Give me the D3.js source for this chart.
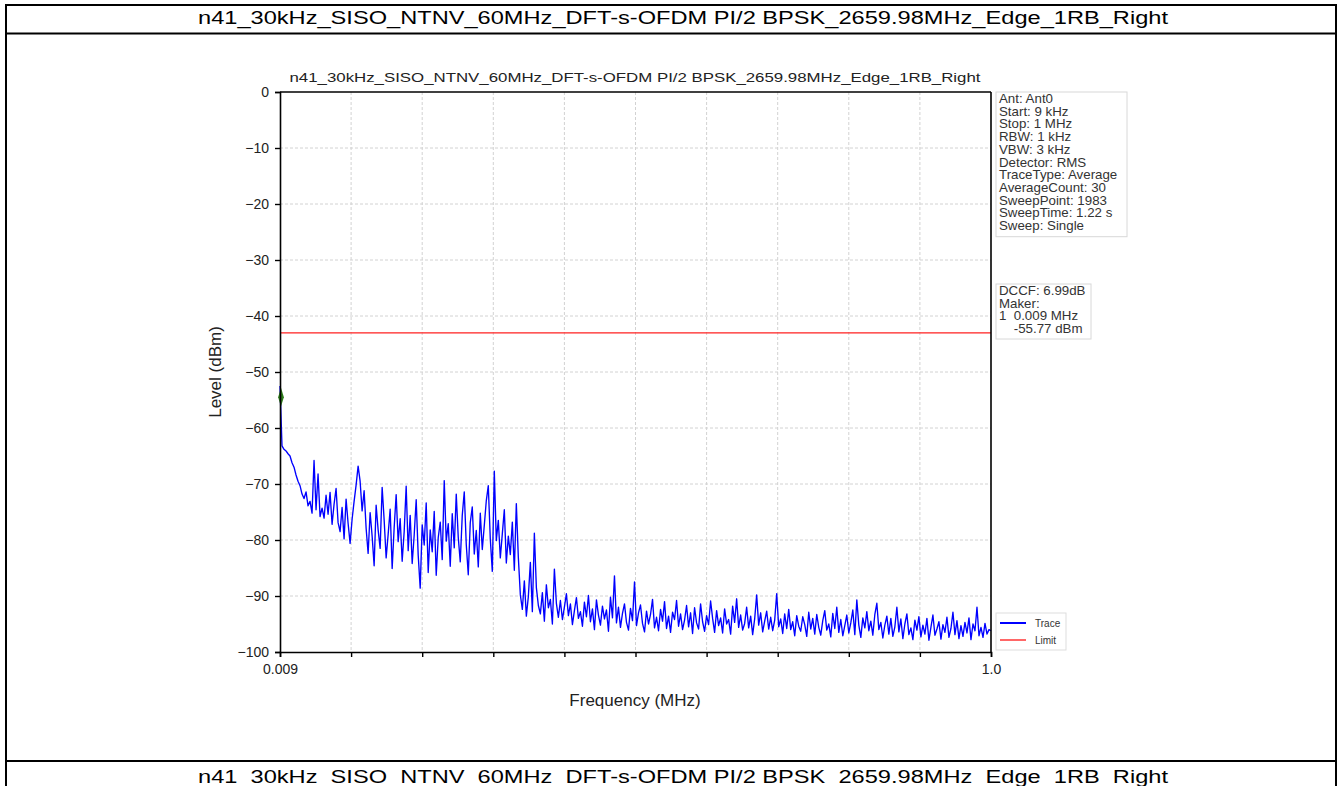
<!DOCTYPE html>
<html><head><meta charset="utf-8">
<script src="https://cdn.jsdelivr.net/npm/d3@7"></script>
<style>
html,body{margin:0;padding:0;background:#fff;}
svg{display:block;font-family:"Liberation Sans",Arial,sans-serif;}
</style></head>
<body>
<svg id="c" width="1338" height="786"></svg>
<script>
const titleText = "n41_30kHz_SISO_NTNV_60MHz_DFT-s-OFDM PI/2 BPSK_2659.98MHz_Edge_1RB_Right";
const sweepStart = 0.009, sweepStop = 1.0;
const xTickLabels = ["0.009","","","","","","","","","","1.0"];
const yTicks = [0,-10,-20,-30,-40,-50,-60,-70,-80,-90,-100];
const limitLevel = -43;
const markerFreq = 0.009, markerLevel = -54.5;
const infoLines = ["Ant: Ant0","Start: 9 kHz","Stop: 1 MHz","RBW: 1 kHz","VBW: 3 kHz","Detector: RMS","TraceType: Average","AverageCount: 30","SweepPoint: 1983","SweepTime: 1.22 s","Sweep: Single"];
const markerLines = ["DCCF: 6.99dB","Maker:","1  0.009 MHz","    -55.77 dBm"];
const legendItems = [{name:"Trace",color:"#0000ff"},{name:"Limit",color:"#ff0000"}];
const traceLevels = [
-52.5,-63.2,-63.8,-64.1,-64.6,-65.0,-66.2,-67.0,-68.4,-69.5,
-70.3,-71.8,-72.6,-71.4,-73.9,-73.1,-75.2,-65.8,-74.6,-68.2,
-75.8,-74.3,-76.1,-72.0,-75.4,-71.5,-77.2,-73.6,-70.8,-76.9,
-78.5,-74.2,-79.8,-72.7,-77.0,-80.6,-76.3,-73.1,-70.2,-66.8,
-69.5,-74.8,-71.2,-77.9,-82.4,-75.1,-79.3,-84.6,-73.8,-78.2,
-81.5,-70.6,-76.4,-83.2,-79.0,-74.5,-85.1,-77.8,-71.9,-80.3,
-76.2,-83.8,-78.5,-70.4,-81.9,-75.6,-84.2,-79.1,-72.8,-82.7,
-88.6,-77.3,-80.9,-73.4,-85.8,-78.2,-82.1,-74.9,-86.3,-79.6,
-76.8,-83.5,-69.4,-80.2,-77.1,-84.7,-75.3,-81.4,-71.8,-79.5,
-83.9,-75.6,-71.4,-80.8,-86.2,-76.9,-74.1,-82.5,-78.3,-84.8,
-75.2,-81.7,-77.4,-73.0,-70.3,-79.8,-85.6,-67.7,-80.1,-76.5,
-83.2,-78.9,-74.6,-84.1,-79.3,-82.6,-76.8,-85.4,-73.5,-83.1,
-89.8,-92.4,-87.3,-93.6,-90.1,-84.0,-92.8,-78.8,-88.5,-91.7,
-93.2,-89.4,-94.5,-88.0,-92.1,-90.6,-95.0,-85.2,-91.3,-93.8,
-90.8,-94.2,-92.0,-89.6,-93.5,-91.4,-95.1,-92.6,-90.3,-94.0,
-92.8,-95.4,-91.1,-93.7,-89.9,-94.6,-92.3,-96.0,-90.7,-93.4,
-95.2,-91.8,-94.1,-92.5,-96.3,-90.2,-93.9,-86.4,-94.8,-92.0,
-95.6,-93.1,-91.4,-94.7,-96.1,-92.2,-94.4,-87.5,-95.3,-93.0,
-91.6,-94.9,-96.4,-92.7,-95.0,-93.3,-90.6,-95.7,-93.8,-96.2,
-92.4,-94.5,-91.0,-95.8,-93.6,-96.5,-92.9,-94.2,-90.8,-95.4,
-93.2,-96.0,-94.3,-91.7,-95.5,-93.0,-96.7,-92.1,-94.8,-95.9,
-91.4,-94.6,-96.3,-93.5,-95.1,-90.9,-94.0,-96.5,-92.6,-95.3,
-93.9,-96.6,-92.3,-95.0,-94.2,-96.8,-91.8,-94.7,-90.5,-95.6,
-93.4,-96.1,-94.9,-92.0,-95.7,-93.6,-96.9,-94.1,-89.8,-95.2,
-93.0,-96.4,-94.5,-92.7,-95.9,-93.8,-96.2,-94.3,-89.6,-95.5,
-94.1,-96.7,-93.2,-95.8,-92.4,-96.0,-94.6,-97.1,-93.5,-95.4,
-96.3,-93.7,-95.1,-97.2,-92.9,-95.9,-94.0,-96.8,-93.3,-95.6,
-97.0,-94.4,-92.6,-96.1,-95.0,-97.3,-93.1,-95.8,-92.0,-96.5,
-94.2,-97.1,-95.3,-93.4,-96.6,-94.8,-92.5,-96.9,-90.7,-95.2,
-97.4,-93.9,-95.7,-92.8,-96.2,-94.5,-97.0,-93.3,-91.3,-96.0,
-94.7,-97.5,-95.2,-93.6,-96.8,-94.0,-97.2,-95.5,-92.0,-96.4,
-94.1,-97.6,-95.0,-93.2,-96.9,-95.7,-97.8,-94.3,-96.1,-93.7,
-97.3,-95.2,-96.8,-94.0,-97.9,-95.6,-93.4,-97.0,-95.9,-94.6,
-97.7,-95.1,-96.5,-93.8,-97.4,-95.8,-92.9,-96.9,-94.4,-97.6,
-95.3,-97.2,-94.7,-96.6,-93.9,-97.8,-95.0,-96.2,-92.0,-97.1,
-95.6,-97.4,-94.9,-96.8,-96.0,-96.2
];

const svg = d3.select("#c");

// outer table frame
const frame = svg.append("g").attr("stroke","#000").attr("stroke-width",2);
frame.append("line").attr("x1",5).attr("x2",1337).attr("y1",5).attr("y2",5);
frame.append("line").attr("x1",6).attr("x2",6).attr("y1",4).attr("y2",786);
frame.append("line").attr("x1",1336).attr("x2",1336).attr("y1",4).attr("y2",786);
frame.append("line").attr("x1",5).attr("x2",1337).attr("y1",33.5).attr("y2",33.5);
frame.append("line").attr("x1",5).attr("x2",1337).attr("y1",761).attr("y2",761);

svg.append("text").attr("x",683).attr("y",24).attr("text-anchor","middle")
  .attr("font-size",18).attr("textLength",970).attr("lengthAdjust","spacingAndGlyphs")
  .text(titleText);
svg.append("text").attr("x",683).attr("y",783).attr("text-anchor","middle")
  .attr("font-size",18).attr("textLength",970).attr("lengthAdjust","spacingAndGlyphs")
  .text(titleText);

// plot
const x = d3.scaleLinear().domain([sweepStart, sweepStop]).range([280, 991]);
const y = d3.scaleLinear().domain([-100, 0]).range([652, 92]);
const xTickVals = xTickLabels.map((_, i) => sweepStart + i * (sweepStop - sweepStart) / (xTickLabels.length - 1));

svg.append("text").attr("x",635).attr("y",82).attr("text-anchor","middle")
  .attr("font-size",13.5).attr("fill","#222").attr("textLength",691).attr("lengthAdjust","spacingAndGlyphs")
  .text(titleText);

const grid = svg.append("g").attr("stroke","#d2d2d2").attr("stroke-width",1).attr("stroke-dasharray","3,2");
grid.selectAll(".gx").data(xTickVals.slice(1,-1)).join("line")
  .attr("x1",d=>x(d)).attr("x2",d=>x(d)).attr("y1",92).attr("y2",652);
grid.selectAll(".gy").data(yTicks.slice(1,-1)).join("line")
  .attr("x1",280).attr("x2",991).attr("y1",d=>y(d)).attr("y2",d=>y(d));

// trace
const step = (sweepStop - sweepStart) / (traceLevels.length - 1);
const line = d3.line().x((d,i)=>x(sweepStart + i*step)).y(d=>y(d));
svg.append("path").datum(traceLevels).attr("d",line).attr("fill","none")
  .attr("stroke","#0000ff").attr("stroke-width",1.35).attr("stroke-linejoin","round");

// limit
svg.append("line").attr("x1",x(sweepStart)).attr("x2",x(sweepStop))
  .attr("y1",y(limitLevel)).attr("y2",y(limitLevel)).attr("stroke","#ff2020").attr("stroke-width",1.2);

// marker
svg.append("path").attr("d",d3.symbol().type(d3.symbolDiamond).size(45)())
  .attr("transform",`translate(${x(markerFreq)+1},${y(markerLevel)}) scale(0.8,1.5)`)
  .attr("fill","#2e7d1a");

// axes
const xAxis = d3.axisBottom(x).tickValues(xTickVals).tickSize(5).tickPadding(7)
  .tickFormat((d,i)=>xTickLabels[i]);
const gx = svg.append("g").attr("transform","translate(0,652)").call(xAxis);
gx.select(".domain").attr("stroke-width",1.6);
gx.selectAll(".tick line").attr("stroke-width",1.4);
gx.selectAll("text").attr("font-size",14).attr("fill","#222").attr("font-family","Liberation Sans, Arial, sans-serif");

const yAxis = d3.axisLeft(y).tickValues(yTicks).tickSize(5).tickPadding(6).tickFormat(d=>d===0?"0":"\u2212"+Math.abs(d));
const gy = svg.append("g").attr("transform","translate(280,0)").call(yAxis);
gy.select(".domain").attr("stroke-width",1.6);
gy.selectAll(".tick line").attr("stroke-width",1.4);
gy.selectAll("text").attr("font-size",14).attr("fill","#222").attr("font-family","Liberation Sans, Arial, sans-serif");

svg.append("line").attr("x1",280).attr("x2",991).attr("y1",92).attr("y2",92).attr("stroke","#000").attr("stroke-width",1.6);
svg.append("line").attr("x1",991).attr("x2",991).attr("y1",92).attr("y2",652).attr("stroke","#000").attr("stroke-width",1.6);

svg.append("text").attr("x",635).attr("y",706).attr("text-anchor","middle")
  .attr("font-size",17).attr("fill","#222").text("Frequency (MHz)");
svg.append("text").attr("transform","translate(221,372) rotate(-90)").attr("text-anchor","middle")
  .attr("font-size",17).attr("fill","#222").text("Level (dBm)");

// info boxes
function textBox(lines, x0, y0, w, lh, fs) {
  const g = svg.append("g");
  g.append("rect").attr("x",x0).attr("y",y0).attr("width",w).attr("height",lines.length*lh+5)
    .attr("fill","#fff").attr("stroke","#d8d8d8").attr("stroke-width",1);
  g.selectAll("text").data(lines).join("text")
    .attr("x",x0+3).attr("y",(d,i)=>y0+11+i*lh).attr("font-size",fs).attr("fill","#333")
    .attr("xml:space","preserve").style("white-space","pre").text(d=>d);
}
textBox(infoLines, 996, 92, 131, 12.7, 13.3);
textBox(markerLines, 996, 284, 95, 12.5, 13.3);

// legend
const lg = svg.append("g");
lg.append("rect").attr("x",996).attr("y",613).attr("width",70).attr("height",37)
  .attr("fill","#fff").attr("stroke","#ddd");
lg.selectAll("line").data(legendItems).join("line")
  .attr("x1",1000).attr("x2",1026).attr("y1",(d,i)=>623+i*17).attr("y2",(d,i)=>623+i*17)
  .attr("stroke",d=>d.color).attr("stroke-width",(d,i)=>i?1.2:2);
lg.selectAll("text").data(legendItems).join("text")
  .attr("x",1035).attr("y",(d,i)=>627+i*17).attr("font-size",10).attr("fill","#333").text(d=>d.name);
</script>
</body></html>
